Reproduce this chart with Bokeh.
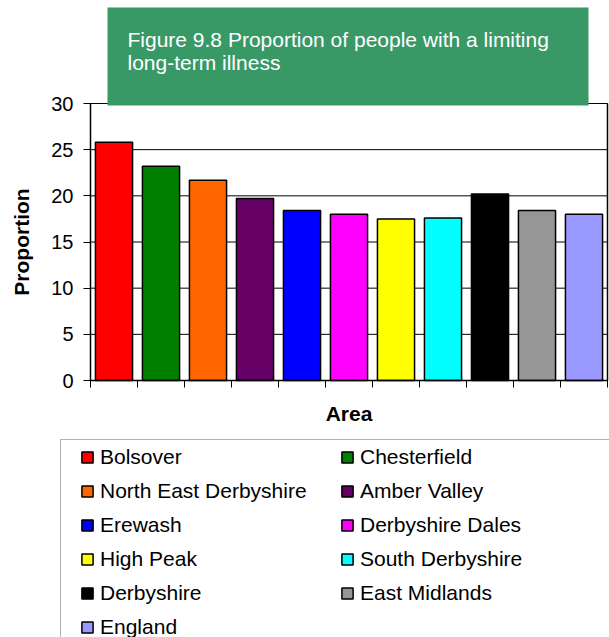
from bokeh.plotting import figure
from bokeh.models import (ColumnDataSource, Legend, LegendItem, Label, BoxAnnotation,
                          FixedTicker, Range1d, LinearAxis)
from bokeh.embed import file_html
from bokeh.resources import INLINE
import numpy as np

areas = ["Bolsover", "Chesterfield", "North East Derbyshire", "Amber Valley", "Erewash",
         "Derbyshire Dales", "High Peak", "South Derbyshire", "Derbyshire", "East Midlands",
         "England"]
proportion = [25.8, 23.2, 21.7, 19.7, 18.4, 18.0, 17.5, 17.6, 20.2, 18.4, 18.0]
colors = ["#FF0000", "#008000", "#FF6600", "#660066", "#0000FF", "#FF00FF", "#FFFF00",
          "#00FFFF", "#000000", "#969696", "#9999FF"]
y_ticks = [0, 5, 10, 15, 20, 25, 30]
title_lines = ["Figure 9.8 Proportion of people with a limiting", "long-term illness"]
x_label = "Area"
y_label = "Proportion"

FONT = "Liberation Sans"
W, H = 609, 637
# plot-area geometry in canvas pixels
PL, PR, PT, PB = 90, 607, 103, 380
n = len(areas)
ymax = y_ticks[-1]
ux = (PR - PL) / n
uy = (PB - PT) / ymax
x_rng = Range1d(-PL / ux, n + (W - PR) / ux)
y_rng = Range1d(-(H - PB) / uy, ymax + PT / uy)

src = ColumnDataSource(dict(x=np.arange(n) + 0.5, top=proportion, color=colors, area=areas))

p = figure(width=W, height=H, x_range=x_rng, y_range=y_rng,
           output_backend="svg", toolbar_location=None, min_border=0)
p.outline_line_color = None
p.xgrid.grid_line_color = None
p.ygrid.grid_line_color = None

# horizontal gridlines within plot area
p.segment(x0=0, x1=n, y0=y_ticks, y1=y_ticks, line_color="black", line_width=1)

bars = p.vbar(x="x", top="top", width=0.79, fill_color="color", line_color="black",
              line_width=1.5, source=src)

# x axis
xa = p.xaxis[0]
xa.fixed_location = 0
xa.bounds = (0, n)
xa.ticker = FixedTicker(ticks=list(range(n + 1)))
xa.major_label_overrides = {i: "" for i in range(n + 1)}
xa.major_label_standoff = 0
xa.major_tick_in = 0
xa.major_tick_out = 7
xa.major_tick_line_color = "black"
xa.minor_tick_line_color = None
xa.axis_line_color = "black"
xa.axis_line_width = 1.5
xa.axis_label = x_label
xa.axis_label_text_font = FONT
xa.axis_label_text_font_style = "bold"
xa.axis_label_text_font_size = "21px"
xa.axis_label_text_color = "black"
xa.axis_label_standoff = 14

ya = p.yaxis[0]
ya.fixed_location = 0
ya.bounds = (0, ymax)
ya.ticker = FixedTicker(ticks=y_ticks)
ya.major_tick_in = 0
ya.major_tick_out = 7
ya.minor_tick_line_color = None
ya.axis_line_color = "black"
ya.axis_line_width = 1.5
ya.major_label_text_font = FONT
ya.major_label_text_font_size = "20px"
ya.major_label_text_color = "black"
ya.major_label_standoff = 10
ya.axis_label = y_label
ya.axis_label_text_font = FONT
ya.axis_label_text_font_style = "bold"
ya.axis_label_text_font_size = "21px"
ya.axis_label_text_color = "black"
ya.axis_label_standoff = 15

# right and top borders of the plot area
ra = LinearAxis(fixed_location=n, bounds=(0, ymax), ticker=FixedTicker(ticks=[]),
                axis_line_color="black", axis_line_width=1.5,
                major_tick_line_color=None, minor_tick_line_color=None)
p.add_layout(ra, "right")
ta = LinearAxis(fixed_location=ymax, bounds=(0, n), ticker=FixedTicker(ticks=[]),
                axis_line_color="black", axis_line_width=1,
                major_tick_line_color=None, minor_tick_line_color=None)
p.add_layout(ta, "above")

# title box (screen units: from frame bottom-left, y upward)
p.add_layout(BoxAnnotation(left=107, right=588, top=H - 7, bottom=H - 105,
                           left_units="screen", right_units="screen",
                           top_units="screen", bottom_units="screen",
                           fill_color="#389966", fill_alpha=1, line_color=None,
                           level="overlay"))
for i, t in enumerate(title_lines):
    p.add_layout(Label(x=127, y=H - 39 - 23 * i, x_units="screen", y_units="screen", text=t,
                       text_font=FONT, text_font_size="21px", text_color="white",
                       text_baseline="alphabetic", level="overlay"))

# legend frame
p.add_layout(BoxAnnotation(left=60, right=630, top=H - 439, bottom=-20,
                           left_units="screen", right_units="screen",
                           top_units="screen", bottom_units="screen",
                           fill_alpha=0, line_color="black", line_width=1,
                           level="overlay"))

items = [LegendItem(label=a, renderers=[bars], index=i) for i, a in enumerate(areas)]
legend = Legend(items=items, ncols=2, orientation="horizontal", location=(80, -2),
                label_text_font=FONT, label_text_font_size="21px", label_text_color="black",
                glyph_width=14, glyph_height=14, label_standoff=6, label_width=231,
                label_height=25, spacing=9, padding=0, margin=0,
                border_line_color=None, background_fill_alpha=0)
p.add_layout(legend, "center")

open("out.html", "w").write(file_html(p, INLINE))
